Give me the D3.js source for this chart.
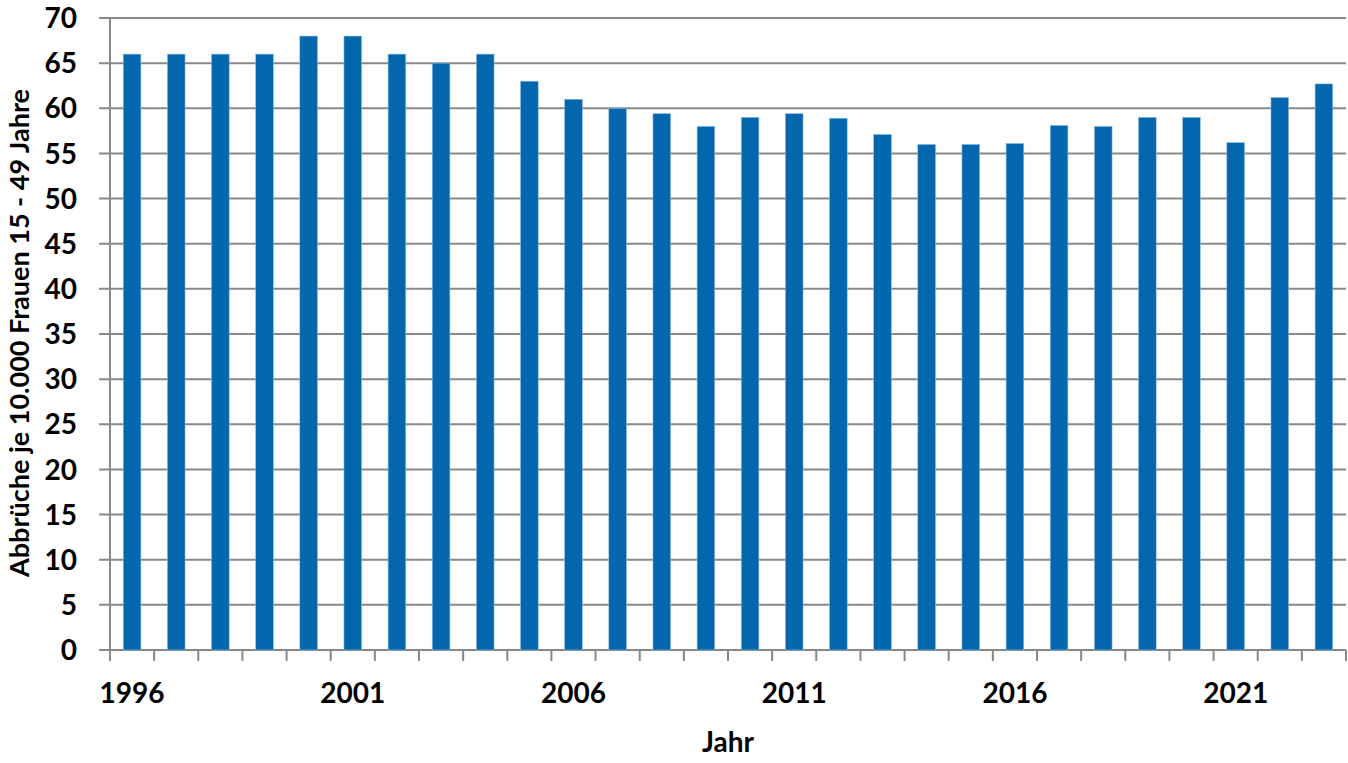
<!DOCTYPE html>
<html>
<head>
<meta charset="utf-8">
<script src="https://cdn.jsdelivr.net/npm/d3@7"></script>
<style>
  body { margin: 0; background: #fff; }
  svg { display: block; font-family: Lato, "Open Sans", sans-serif; font-weight: bold; }
</style>
</head>
<body>
<div id="chart"></div>
<script>
const years = [1996, 1997, 1998, 1999, 2000, 2001, 2002, 2003, 2004, 2005, 2006, 2007, 2008, 2009,
  2010, 2011, 2012, 2013, 2014, 2015, 2016, 2017, 2018, 2019, 2020, 2021, 2022, 2023];
const rates = [66, 66, 66, 66, 68, 68, 66, 65, 66, 63, 61, 60, 59.4, 58,
  59, 59.4, 58.9, 57.1, 56, 56, 56.1, 58.1, 58, 59, 59, 56.2, 61.2, 62.7];
const yTicks = [0, 5, 10, 15, 20, 25, 30, 35, 40, 45, 50, 55, 60, 65, 70];
const labelYears = [1996, 2001, 2006, 2011, 2016, 2021];

const W = 1348, H = 763;
const margin = { top: 18, right: 2, bottom: 113, left: 110 };
const gridColor = "#888888";

const svg = d3.select("#chart").append("svg")
  .attr("width", W)
  .attr("height", H);

const x = d3.scaleBand()
  .domain(years)
  .range([margin.left, W - margin.right])
  .paddingInner(0.6)
  .paddingOuter(0.3);

const y = d3.scaleLinear()
  .domain([0, 70])
  .range([H - margin.bottom, margin.top]);

// gridlines + y ticks (extend left of the axis)
svg.append("g")
  .selectAll("line")
  .data(yTicks)
  .join("line")
  .attr("x1", margin.left - 11)
  .attr("x2", W - margin.right)
  .attr("y1", d => y(d))
  .attr("y2", d => y(d))
  .attr("stroke", gridColor)
  .attr("stroke-width", 2);

// y tick labels
svg.append("g")
  .selectAll("text")
  .data(yTicks)
  .join("text")
  .attr("x", 77)
  .attr("y", d => y(d))
  .attr("dy", "0.36em")
  .attr("text-anchor", "end")
  .attr("font-size", 28)
  .attr("fill", "#000")
  .text(d => d);

// bars
svg.append("g")
  .selectAll("rect")
  .data(years)
  .join("rect")
  .attr("x", d => x(d))
  .attr("width", x.bandwidth())
  .attr("y", (d, i) => y(rates[i]))
  .attr("height", (d, i) => y(0) - y(rates[i]))
  .attr("fill", "#0466ad")
  .attr("stroke", "#8fbde3")
  .attr("stroke-width", 0.6);

// y axis line
svg.append("line")
  .attr("x1", margin.left).attr("x2", margin.left)
  .attr("y1", y(70)).attr("y2", y(0))
  .attr("stroke", gridColor)
  .attr("stroke-width", 2);

// x ticks at category boundaries
const step = x.step();
const bounds = d3.range(years.length + 1).map(i => margin.left + i * step);
svg.append("g")
  .selectAll("line")
  .data(bounds)
  .join("line")
  .attr("x1", d => d).attr("x2", d => d)
  .attr("y1", y(0)).attr("y2", y(0) + 11)
  .attr("stroke", gridColor)
  .attr("stroke-width", 2);

// x labels
svg.append("g")
  .selectAll("text")
  .data(labelYears)
  .join("text")
  .attr("x", d => x(d) + x.bandwidth() / 2)
  .attr("y", 703)
  .attr("text-anchor", "middle")
  .attr("font-size", 28)
  .attr("fill", "#000")
  .text(d => d);

// axis titles
svg.append("text")
  .attr("x", (margin.left + W - margin.right) / 2)
  .attr("y", 752)
  .attr("text-anchor", "middle")
  .attr("font-size", 28)
  .attr("fill", "#000")
  .text("Jahr");

svg.append("text")
  .attr("transform", "translate(29,333) rotate(-90)")
  .attr("text-anchor", "middle")
  .attr("font-size", 27)
  .attr("fill", "#000")
  .text("Abbrüche je 10.000 Frauen 15 - 49 Jahre");
</script>
</body>
</html>
